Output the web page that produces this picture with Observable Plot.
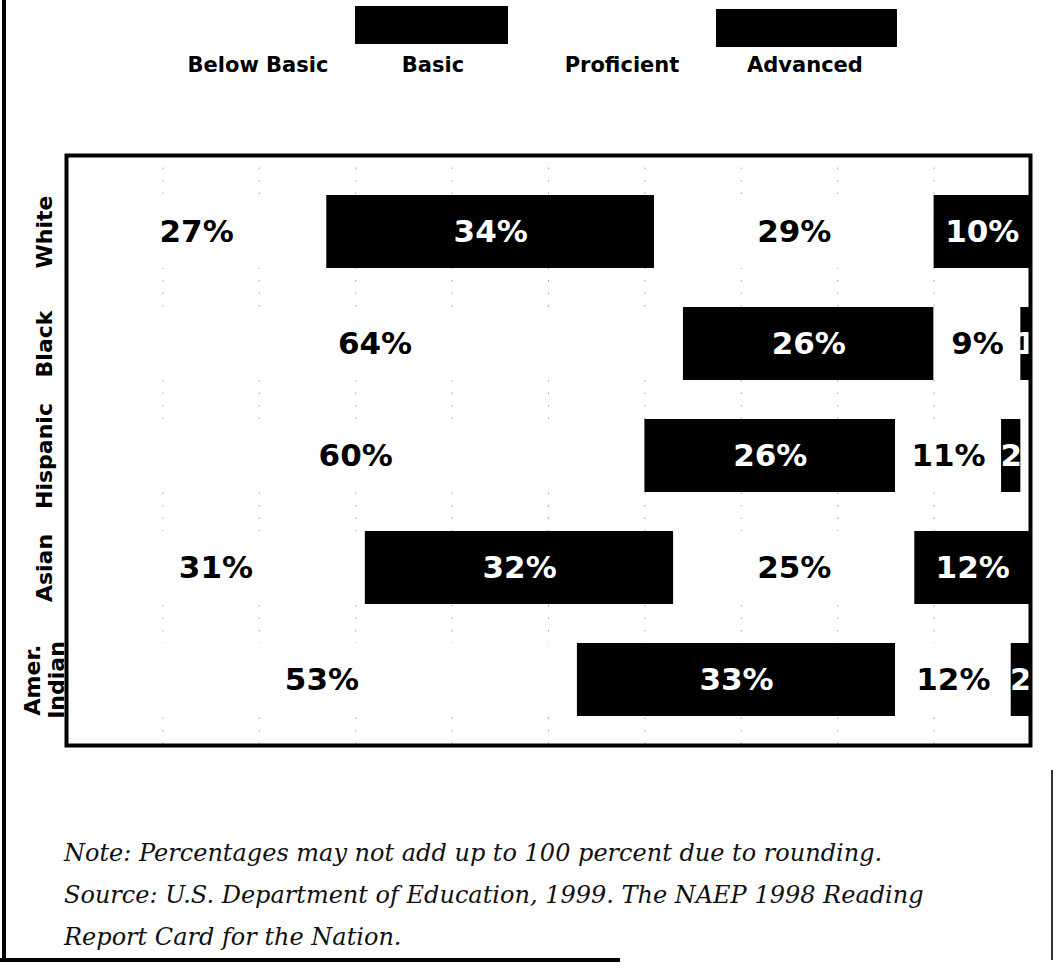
<!DOCTYPE html>
<html>
<head>
<meta charset="utf-8">
<script src="https://cdn.jsdelivr.net/npm/d3@7"></script>
<script src="https://cdn.jsdelivr.net/npm/@observablehq/plot@0.6"></script>
<style>
  body { margin: 0; background: #fff; }
  #page { position: relative; width: 1056px; height: 971px; overflow: hidden; background: #fff; }
  #legend { position: relative; height: 110px; }
  .item { position: absolute; top: 0; width: 200px; }
  .sw { position: absolute; top: 6px; height: 38px; }
  .lab { position: absolute; top: 53px; left: 0; width: 200px; text-align: center;
         font: bold 21px "DejaVu Sans", sans-serif; line-height: 24px; color: #000; }
  #chart { height: 650px; }
  #caption { position: absolute; left: 64px; top: 832px; font: italic 24px "DejaVu Serif", serif;
             line-height: 42px; color: #111; white-space: nowrap; }
  .edge-left { position: absolute; left: 2px; top: 0; width: 4px; height: 960px; background: #000; }
  .edge-bottom { position: absolute; left: 0; top: 958px; width: 620px; height: 4px; background: #000; }
  .edge-right { position: absolute; left: 1051px; top: 770px; width: 2px; height: 190px; background: #333; }
</style>
</head>
<body>
<div id="page">
  <div id="legend"></div>
  <div id="chart"></div>
  <div id="caption"></div>
  <div class="edge-left"></div>
  <div class="edge-bottom"></div>
  <div class="edge-right"></div>
</div>
<script>
// ---- data ----
const groups = ["White", "Black", "Hispanic", "Asian", "Amer.\nIndian"];
const levels = ["Below Basic", "Basic", "Proficient", "Advanced"];
const levelColors = ["white", "black", "white", "black"];
const belowBasic = [27, 64, 60, 31, 53];
const basic      = [34, 26, 26, 32, 33];
const proficient = [29,  9, 11, 25, 12];
const advanced   = [10,  1,  2, 12,  2];
const captionLines = [
  "Note: Percentages may not add up to 100 percent due to rounding.",
  "Source: U.S. Department of Education, 1999. The NAEP 1998 Reading",
  "Report Card for the Nation."
];

const series = [belowBasic, basic, proficient, advanced];
const data = groups.flatMap((g, i) => levels.map((l, j) => ({group: g, level: l, value: series[j][i]})));
const colorOf = (l) => levelColors[levels.indexOf(l)];
const textColorOf = (l) => colorOf(l) === "black" ? "white" : "black";

// ---- legend ----
const legendLayout = [
  {center: 258, swLeft: 175, swWidth: 162, swTop: 6},
  {center: 433, swLeft: 355, swWidth: 153, swTop: 6},
  {center: 622, swLeft: 535, swWidth: 165, swTop: 6},
  {center: 805, swLeft: 716, swWidth: 181, swTop: 9}
];
const legend = document.getElementById("legend");
levels.forEach((l, j) => {
  const L = legendLayout[j];
  const sw = document.createElement("div");
  sw.className = "sw";
  sw.style.left = L.swLeft + "px";
  sw.style.width = L.swWidth + "px";
  sw.style.top = L.swTop + "px";
  sw.style.background = levelColors[j];
  legend.appendChild(sw);
  const item = document.createElement("div");
  item.className = "item";
  item.style.left = (L.center - 100) + "px";
  const lab = document.createElement("div");
  lab.className = "lab";
  lab.textContent = l;
  item.appendChild(lab);
  legend.appendChild(item);
});

// ---- chart ----
const chart = Plot.plot({
  width: 1056,
  height: 650,
  marginLeft: 66,
  marginRight: 26,
  marginTop: 45,
  marginBottom: 15,
  x: {domain: [0, 100], axis: null},
  y: {domain: groups, axis: null, paddingInner: 0.35, paddingOuter: 0.25, insetTop: 11},
  color: {type: "identity"},
  marks: [
    Plot.gridX({ticks: 10, stroke: "#666", strokeOpacity: 0.6, strokeDasharray: "1.5,11"}),
    Plot.barX(data, Plot.stackX({x: "value", y: "group", z: "level", fill: d => colorOf(d.level)})),
    Plot.text(data, Plot.stackX({
      x: "value", y: "group", z: "level",
      text: d => d.value < 5 ? String(d.value) : d.value + "%",
      fill: d => textColorOf(d.level),
      fontSize: 31, fontWeight: "bold", fontFamily: "DejaVu Sans"
    })),
    Plot.frame({stroke: "black", strokeWidth: 4}),
    Plot.text(groups, {
      y: d => d, text: d => d, frameAnchor: "left", textAnchor: "middle", lineAnchor: "middle",
      dx: -22, rotate: -90,
      fontSize: 22, fontWeight: "bold", fontFamily: "DejaVu Sans", lineHeight: 1.1, fill: "black"
    })
  ]
});
document.getElementById("chart").appendChild(chart);

// ---- caption ----
document.getElementById("caption").innerHTML = captionLines.map(s => s.replace(/&/g, "&amp;")).join("<br>");
</script>
</body>
</html>
